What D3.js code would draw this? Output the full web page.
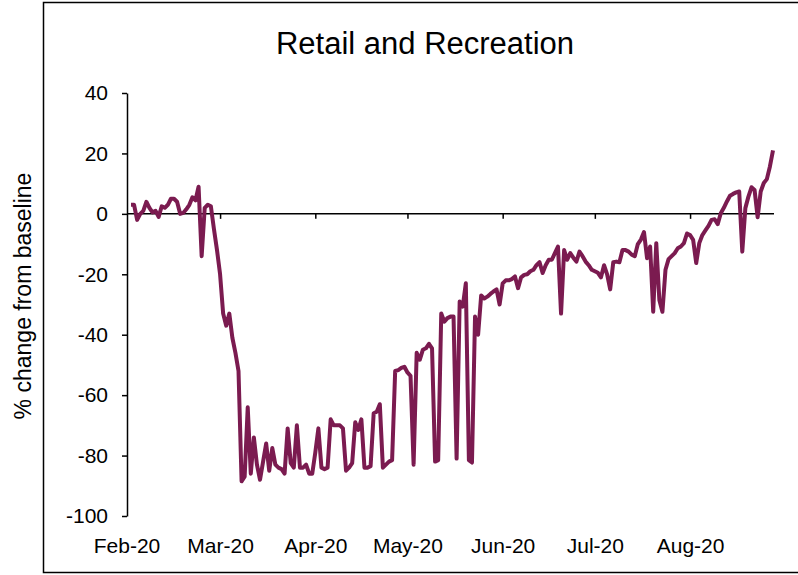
<!DOCTYPE html>
<html>
<head>
<meta charset="utf-8">
<script src="https://cdn.jsdelivr.net/npm/d3@7"></script>
<style>
    body { margin: 0; background: #fff; }
    svg text { font-family: "Liberation Sans", Arial, sans-serif; fill: #000; }
</style>
</head>
<body>
<svg id="chart" width="798" height="575"></svg>
<script>
// first day of the daily series, one value per day after that
const startDate = new Date(2020, 1, 15);

// % change from baseline (Feb 15 - Sep 11)
const retailValues = [
    3, 3, -2, 0, 1, 4, 2, 0.5, 1, -1,
    2.5, 2, 3, 5, 5, 4, 0, 0.3, 1.5, 3,
    5.5, 4.5, 9, -14, 2, 3, 2.5, -5, -12, -20,
    -33, -37, -33, -41, -46, -52, -88.5, -87, -64, -86,
    -74, -83, -88, -82, -76, -85, -77.5, -83, -84, -84.5,
    -86, -71, -82.5, -84, -70, -84, -84, -83, -86, -86,
    -79, -71, -84, -84.5, -84, -68, -70, -70, -70, -71,
    -85, -84, -82.5, -69, -71.5, -68, -84, -84, -83.5, -66,
    -65.5, -63, -84, -83, -82, -81.5, -52, -51.7, -51, -50.6,
    -52.5, -53.6, -83, -46, -48.3, -45, -44.5, -43, -44.5, -82,
    -81.5, -33, -35.7, -34.5, -34, -34, -81, -29, -30.7, -23,
    -81.5, -82.3, -34, -40, -27, -28, -27.4, -26.5, -25.7, -25,
    -30, -23, -22, -22, -21.6, -20.7, -24.6, -21, -20.2, -20,
    -19, -18.5, -17, -16, -19.6, -17, -15.2, -15.2, -13, -10.8,
    -33, -12, -15.2, -13, -14.5, -15.8, -12.5, -14, -15.8, -17,
    -18.5, -19, -19.5, -21, -17, -20, -25, -16, -15.8, -16,
    -12, -12, -12.5, -13.5, -14, -10, -8.5, -6, -14.7, -10.8,
    -32.4, -9.7, -28.5, -32.4, -18.5, -15, -14, -13, -11.4, -10.8,
    -9.7, -6.5, -7, -8.6, -16.3, -9.7, -7, -5.5, -4, -2,
    -1.8, -3.4, 0.2, 2, 4.1, 6, 6.6, 7.1, 7.4, -12.5,
    1.9, 5.7, 8.8, 7.9, -1.1, 7.4, 10.2, 11.5, 15.7, 21
];

// axis ticks
const yTicks = [-100, -80, -60, -40, -20, 0, 20, 40];
const xTickDates = [
    new Date(2020, 1, 15), new Date(2020, 2, 15), new Date(2020, 3, 15),
    new Date(2020, 4, 15), new Date(2020, 5, 15), new Date(2020, 6, 15),
    new Date(2020, 7, 15)
];
const xTickLabels = ["Feb-20", "Mar-20", "Apr-20", "May-20", "Jun-20", "Jul-20", "Aug-20"];

const chartTitle = "Retail and Recreation";
const yTitle = "% change from baseline";

let data = retailValues.map((v, i) => ({date: d3.timeDay.offset(startDate, i), value: v}));

let svg = d3.select('#chart');

// outer frame (right side runs off the picture)
svg.append('rect')
    .attr('x', 43.5).attr('y', 2.5)
    .attr('width', 800).attr('height', 570)
    .attr('fill', 'none').attr('stroke', '#000').attr('stroke-width', 1.5);

let plotLeft = 127, plotRight = 774;

let x = d3.scaleTime()
    .domain([startDate, data[data.length - 1].date])
    .range([131, 773]);

let y = d3.scaleLinear()
    .domain([-100, 40])
    .range([516, 93]);

// y axis
let yAxis = svg.append('g')
    .attr('transform', `translate(${plotLeft},0)`)
    .call(d3.axisLeft(y).tickValues(yTicks).tickSize(5).tickPadding(14).tickSizeOuter(0));
yAxis.select('.domain').attr('stroke', '#000').attr('stroke-width', 1.5);
yAxis.selectAll('.tick line').attr('stroke', '#000').attr('stroke-width', 1.5);
yAxis.selectAll('.tick text').attr('font-size', 21)
    .text(d => d < 0 ? '-' + Math.abs(d) : d);

// x axis sits on the zero line
let xAxis = svg.append('g')
    .attr('transform', `translate(0,${y(0)})`)
    .call(d3.axisBottom(x).tickValues(xTickDates).tickSize(5)
        .tickFormat((d, i) => xTickLabels[i]));
xAxis.select('.domain').remove();
xAxis.append('line')
    .attr('x1', plotLeft).attr('x2', plotRight)
    .attr('stroke', '#000').attr('stroke-width', 1.5);
xAxis.selectAll('.tick line').attr('stroke', '#000').attr('stroke-width', 1.5)
    .filter((d, i) => i === 0).remove();
xAxis.selectAll('.tick text')
    .attr('font-size', 21)
    .attr('dy', null)
    .attr('y', 553 - y(0));
// first label is centred on the y axis
xAxis.selectAll('.tick').filter((d, i) => i === 0)
    .attr('transform', `translate(${plotLeft},0)`);

// the series
let line = d3.line()
    .x(d => x(d.date))
    .y(d => y(d.value));

svg.append('path')
    .datum(data)
    .attr('d', line)
    .attr('fill', 'none')
    .attr('stroke', '#7b1b50')
    .attr('stroke-width', 4)
    .attr('stroke-linejoin', 'round');

// titles
svg.append('text')
    .attr('x', 425).attr('y', 54)
    .attr('text-anchor', 'middle')
    .attr('font-size', 31)
    .text(chartTitle);

svg.append('text')
    .attr('transform', 'translate(23,296) rotate(-90)')
    .attr('text-anchor', 'middle')
    .attr('dy', '0.35em')
    .attr('font-size', 23)
    .text(yTitle);
</script>
</body>
</html>
